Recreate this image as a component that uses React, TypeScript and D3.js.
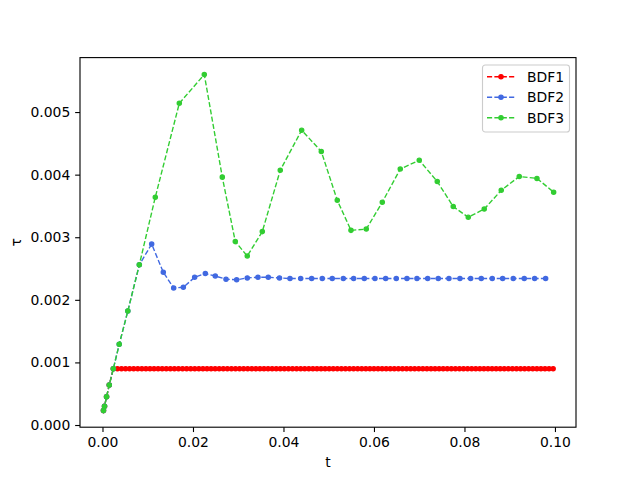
import React, { FC, useEffect, useRef } from "react"
import { axisBottom, axisLeft, line, scaleLinear, select } from "d3"

// step sizes
const bdf1T = [
  0.00022, 0.00045, 0.0009, 0.0015,
  0.0024, 0.0033, 0.0042, 0.0051, 0.006, 0.0069, 0.0078, 0.0087, 0.0096, 0.0105,
  0.0114, 0.0123, 0.0132, 0.0141, 0.015, 0.0159, 0.0168, 0.0177, 0.0186, 0.0195,
  0.0204, 0.0213, 0.0222, 0.0231, 0.024, 0.0249, 0.0258, 0.0267, 0.0276, 0.0285,
  0.0294, 0.0303, 0.0312, 0.0321, 0.033, 0.0339, 0.0348, 0.0357, 0.0366, 0.0375,
  0.0384, 0.0393, 0.0402, 0.0411, 0.042, 0.0429, 0.0438, 0.0447, 0.0456, 0.0465,
  0.0474, 0.0483, 0.0492, 0.0501, 0.051, 0.0519, 0.0528, 0.0537, 0.0546, 0.0555,
  0.0564, 0.0573, 0.0582, 0.0591, 0.06, 0.0609, 0.0618, 0.0627, 0.0636, 0.0645,
  0.0654, 0.0663, 0.0672, 0.0681, 0.069, 0.0699, 0.0708, 0.0717, 0.0726, 0.0735,
  0.0744, 0.0753, 0.0762, 0.0771, 0.078, 0.0789, 0.0798, 0.0807, 0.0816, 0.0825,
  0.0834, 0.0843, 0.0852, 0.0861, 0.087, 0.0879, 0.0888, 0.0897, 0.0906, 0.0915,
  0.0924, 0.0933, 0.0942, 0.0951, 0.096, 0.0969, 0.0978, 0.0987, 0.0996,
]
const bdf1Tau = [
  0.00023, 0.0003, 0.00045, 0.00064,
  0.0009, 0.0009, 0.0009, 0.0009, 0.0009, 0.0009, 0.0009, 0.0009, 0.0009, 0.0009,
  0.0009, 0.0009, 0.0009, 0.0009, 0.0009, 0.0009, 0.0009, 0.0009, 0.0009, 0.0009,
  0.0009, 0.0009, 0.0009, 0.0009, 0.0009, 0.0009, 0.0009, 0.0009, 0.0009, 0.0009,
  0.0009, 0.0009, 0.0009, 0.0009, 0.0009, 0.0009, 0.0009, 0.0009, 0.0009, 0.0009,
  0.0009, 0.0009, 0.0009, 0.0009, 0.0009, 0.0009, 0.0009, 0.0009, 0.0009, 0.0009,
  0.0009, 0.0009, 0.0009, 0.0009, 0.0009, 0.0009, 0.0009, 0.0009, 0.0009, 0.0009,
  0.0009, 0.0009, 0.0009, 0.0009, 0.0009, 0.0009, 0.0009, 0.0009, 0.0009, 0.0009,
  0.0009, 0.0009, 0.0009, 0.0009, 0.0009, 0.0009, 0.0009, 0.0009, 0.0009, 0.0009,
  0.0009, 0.0009, 0.0009, 0.0009, 0.0009, 0.0009, 0.0009, 0.0009, 0.0009, 0.0009,
  0.0009, 0.0009, 0.0009, 0.0009, 0.0009, 0.0009, 0.0009, 0.0009, 0.0009, 0.0009,
  0.0009, 0.0009, 0.0009, 0.0009, 0.0009, 0.0009, 0.0009, 0.0009, 0.0009,
]

const bdf2T = [
  0.00022, 0.00045, 0.0009, 0.0015, 0.0024, 0.0037, 0.0056, 0.00814, 0.01087,
  0.01344, 0.01573, 0.01787, 0.02037, 0.02273, 0.02493, 0.0273, 0.02965,
  0.032, 0.03436, 0.03664, 0.03912, 0.04144, 0.0438, 0.04623, 0.04857, 0.05078,
  0.05322, 0.05551, 0.05786, 0.06022, 0.06259, 0.06493, 0.06729, 0.0695, 0.07187,
  0.07421, 0.07657, 0.079, 0.08137, 0.08371, 0.08614, 0.08844, 0.09078, 0.09321,
  0.09551, 0.09794,
]
const bdf2Tau = [
  0.00023, 0.0003, 0.00045, 0.00064, 0.0009, 0.00129, 0.00182, 0.00256, 0.00289,
  0.00244, 0.00219, 0.0022, 0.00236, 0.00242, 0.00238, 0.00233, 0.00232,
  0.00235, 0.00236, 0.00236, 0.00235, 0.00234, 0.00234, 0.00234, 0.00234, 0.00234,
  0.00234, 0.00234, 0.00234, 0.00234, 0.00234, 0.00234, 0.00234, 0.00234, 0.00234,
  0.00234, 0.00234, 0.00234, 0.00234, 0.00234, 0.00234, 0.00234, 0.00234, 0.00234,
  0.00234, 0.00234,
]

const bdf3T = [
  0.00022, 0.00045, 0.0009, 0.0015, 0.0024, 0.0037, 0.0056, 0.00814, 0.01167,
  0.01698, 0.0225, 0.02648, 0.02935, 0.032, 0.03532, 0.03929, 0.04402, 0.04836,
  0.05189, 0.05492, 0.0583, 0.06184, 0.06581, 0.07001, 0.07399, 0.07752, 0.08084,
  0.08437, 0.08813, 0.09211, 0.09602, 0.09971,
]
const bdf3Tau = [
  0.00023, 0.0003, 0.00045, 0.00064, 0.0009, 0.00129, 0.00182, 0.00256, 0.00364,
  0.00514, 0.0056, 0.00396, 0.00293, 0.0027, 0.00309, 0.00407, 0.00471, 0.00437,
  0.00359, 0.00311, 0.00313, 0.00356, 0.00409, 0.00423, 0.00389, 0.00349, 0.00332,
  0.00345, 0.00375, 0.00397, 0.00394, 0.00372,
]

const seriesNames = ["BDF1", "BDF2", "BDF3"]
const seriesColors = ["#ff0000", "#4169e1", "#32cd32"]

const xTicks = [0, 0.02, 0.04, 0.06, 0.08, 0.1]
const yTicks = [0, 0.001, 0.002, 0.003, 0.004, 0.005]

type P = { t: number; tau: number }

const zip = (ts: number[], taus: number[]): P[] =>
  ts.map((t, i) => ({ t, tau: taus[i] }))

const StepSizeChart: FC = () => {
  const wrapperRef = useRef<HTMLDivElement>(null)

  useEffect(() => {
    document.body.style.margin = "0"
    if (!wrapperRef.current) return
    select(wrapperRef.current).selectAll("*").remove()

    // dimensions (matplotlib default figure)
    const width = 640
    const height = 480
    const margins = { top: 57.6, right: 64, bottom: 52.8, left: 80 }
    const boundsWidth = width - margins.left - margins.right
    const boundsHeight = height - margins.top - margins.bottom
    const font = "DejaVu Sans, sans-serif"

    const series = [
      zip(bdf1T, bdf1Tau),
      zip(bdf2T, bdf2Tau),
      zip(bdf3T, bdf3Tau),
    ]

    const svg = select(wrapperRef.current)
      .append("svg")
      .attr("width", width)
      .attr("height", height)
      .style("display", "block")

    svg.append("rect").attr("width", width).attr("height", height).attr("fill", "#fff")

    const bounds = svg
      .append("g")
      .attr("transform", `translate(${margins.left},${margins.top})`)

    // scales
    const xScale = scaleLinear().domain([-0.00497, 0.10465]).range([0, boundsWidth])
    const yScale = scaleLinear().domain([-0.000035, 0.00587]).range([boundsHeight, 0])

    // lines + markers
    const lineGenerator = line<P>()
      .x((d) => xScale(d.t))
      .y((d) => yScale(d.tau))

    series.forEach((data, i) => {
      const color = seriesColors[i]
      bounds
        .append("path")
        .attr("d", lineGenerator(data))
        .attr("fill", "none")
        .attr("stroke", color)
        .attr("stroke-width", 1.39)
        .attr("stroke-dasharray", "5.14 2.22")
      bounds
        .append("g")
        .selectAll("circle")
        .data(data)
        .join("circle")
        .attr("cx", (d) => xScale(d.t))
        .attr("cy", (d) => yScale(d.tau))
        .attr("r", 2.08)
        .attr("fill", color)
        .attr("stroke", color)
        .attr("stroke-width", 1.39)
    })

    // x axis
    const xAxis = bounds
      .append("g")
      .attr("transform", `translate(0,${boundsHeight})`)
      .call(
        axisBottom(xScale)
          .tickValues(xTicks)
          .tickFormat((d) => (d as number).toFixed(2))
          .tickSize(4.86)
          .tickPadding(4.86)
          .tickSizeOuter(0),
      )
    xAxis.select(".domain").remove()
    xAxis.selectAll("line").attr("stroke", "#000").attr("stroke-width", 1.11)
    xAxis
      .selectAll("text")
      .attr("fill", "#000")
      .style("font-family", font)
      .style("font-size", "13.9px")

    // y axis
    const yAxis = bounds
      .append("g")
      .call(
        axisLeft(yScale)
          .tickValues(yTicks)
          .tickFormat((d) => (d as number).toFixed(3))
          .tickSize(4.86)
          .tickPadding(4.86)
          .tickSizeOuter(0),
      )
    yAxis.select(".domain").remove()
    yAxis.selectAll("line").attr("stroke", "#000").attr("stroke-width", 1.11)
    yAxis
      .selectAll("text")
      .attr("fill", "#000")
      .style("font-family", font)
      .style("font-size", "13.9px")

    // frame
    bounds
      .append("rect")
      .attr("width", boundsWidth)
      .attr("height", boundsHeight)
      .attr("fill", "none")
      .attr("stroke", "#000")
      .attr("stroke-width", 1.11)

    // axis labels
    svg
      .append("text")
      .attr("x", margins.left + boundsWidth / 2)
      .attr("y", 467)
      .attr("text-anchor", "middle")
      .style("font-family", font)
      .style("font-size", "13.9px")
      .text("t")

    svg
      .append("text")
      .attr("transform", `translate(21,${margins.top + boundsHeight / 2}) rotate(-90)`)
      .attr("text-anchor", "middle")
      .style("font-family", font)
      .style("font-size", "13.9px")
      .text("τ")

    // legend
    const legend = svg.append("g").attr("transform", "translate(482.5,65)")
    legend
      .append("rect")
      .attr("width", 87)
      .attr("height", 67)
      .attr("rx", 2.8)
      .attr("fill", "#fff")
      .attr("fill-opacity", 0.8)
      .attr("stroke", "#cccccc")
      .attr("stroke-width", 1.11)

    seriesNames.forEach((name, i) => {
      const y = 11.7 + i * 20.5
      const row = legend.append("g").attr("transform", `translate(0,${y})`)
      row
        .append("line")
        .attr("x1", 4.5)
        .attr("x2", 32.5)
        .attr("stroke", seriesColors[i])
        .attr("stroke-width", 1.39)
        .attr("stroke-dasharray", "5.14 2.22")
      row
        .append("circle")
        .attr("cx", 18.5)
        .attr("r", 2.08)
        .attr("fill", seriesColors[i])
        .attr("stroke", seriesColors[i])
        .attr("stroke-width", 1.39)
      row
        .append("text")
        .attr("x", 44.5)
        .attr("dy", "0.36em")
        .style("font-family", font)
        .style("font-size", "13.9px")
        .text(name)
    })
  }, [])

  return <div ref={wrapperRef} />
}

export default StepSizeChart
